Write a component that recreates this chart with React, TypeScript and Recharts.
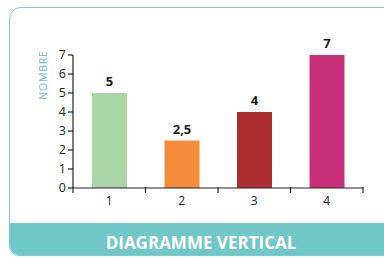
import React from 'react';
import { BarChart, Bar, XAxis, YAxis, LabelList, Cell } from 'recharts';

const categories = ['1', '2', '3', '4'];
const values = [5, 2.5, 4, 7];
const colors = ['#a9d5a5', '#f58b3b', '#ab2e30', '#c8307a'];
const yTicks = [0, 1, 2, 3, 4, 5, 6, 7];
const title = 'DIAGRAMME VERTICAL';
const yLabel = 'NOMBRE';

const data = categories.map((c, i) => ({ name: c, value: values[i] }));

const FONT = '"Open Sans", sans-serif';

const XTick = (props: any) => {
  const { x, y, payload, index, width, visibleTicksCount } = props;
  const count = visibleTicksCount || categories.length;
  const half = payload && payload.offset ? payload.offset : width / count / 2;
  const axisY = y - 9;
  return (
    <g>
      <line x1={x - half} x2={x - half} y1={axisY} y2={axisY + 6} stroke="#222" strokeWidth={1.2} />
      {index === count - 1 && (
        <line x1={x + half} x2={x + half} y1={axisY} y2={axisY + 6} stroke="#222" strokeWidth={1.2} />
      )}
      <text x={x} y={y + 9} textAnchor="middle" fontSize={12} fill="#222" fontFamily={FONT}>
        {payload.value}
      </text>
    </g>
  );
};

const YLabelContent = (props: any) => {
  const vb = props.viewBox || { x: 0, y: 0 };
  const cx = vb.x + 10;
  const cy = vb.y + 20;
  return (
    <text
      x={cx}
      y={cy}
      transform={`rotate(-90 ${cx} ${cy})`}
      textAnchor="middle"
      dominantBaseline="central"
      fontSize={10.5}
      letterSpacing={0.8}
      fill="#7ab8bb"
      fontFamily={FONT}
    >
      {yLabel}
    </text>
  );
};

export default function App() {
  return (
    <div style={{ position: 'absolute', left: 0, top: 0, width: 384, height: 257, overflow: 'hidden', background: '#fff' }}>
      <div
        style={{
          position: 'absolute',
          left: 9,
          top: 7,
          width: 384,
          height: 249,
          boxSizing: 'border-box',
          border: '1.5px solid #7ccccc',
          borderRadius: '12px 0 0 10px',
          overflow: 'hidden',
        }}
      >
        <div
          style={{
            position: 'absolute',
            left: 0,
            right: 0,
            top: 215,
            bottom: 0,
            paddingTop: 6,
            boxSizing: 'border-box',
            background: '#6fc7c7',
            color: '#fff',
            fontFamily: FONT,
            fontWeight: 700,
            fontSize: 17,
            display: 'flex',
            alignItems: 'center',
            justifyContent: 'center',
          }}
        >
          {title}
        </div>
      </div>
      <div style={{ position: 'absolute', left: 0, top: 0 }}>
        <BarChart width={384} height={257} data={data} margin={{ top: 55, right: 21, bottom: 39, left: 33 }}>
          <XAxis
            dataKey="name"
            height={30}
            tickLine={false}
            axisLine={{ stroke: '#222', strokeWidth: 1.2 }}
            tick={<XTick />}
            interval={0}
          />
          <YAxis
            width={40}
            domain={[0, 7]}
            ticks={yTicks}
            interval={0}
            tickSize={5}
            tickMargin={2}
            axisLine={{ stroke: '#222', strokeWidth: 1.2 }}
            tickLine={{ stroke: '#222', strokeWidth: 1.2 }}
            tick={{ fontSize: 12.5, fill: '#222', fontFamily: FONT }}
            label={<YLabelContent />}
          />
          <Bar dataKey="value" barSize={35} isAnimationActive={false}>
            {data.map((d, i) => (
              <Cell key={d.name} fill={colors[i]} />
            ))}
            <LabelList
              dataKey="value"
              position="top"
              offset={7}
              formatter={(v: any) => String(v).replace('.', ',')}
              style={{ fontSize: 13, fontWeight: 700, fill: '#1a1a1a', fontFamily: FONT }}
            />
          </Bar>
        </BarChart>
      </div>
    </div>
  );
}
